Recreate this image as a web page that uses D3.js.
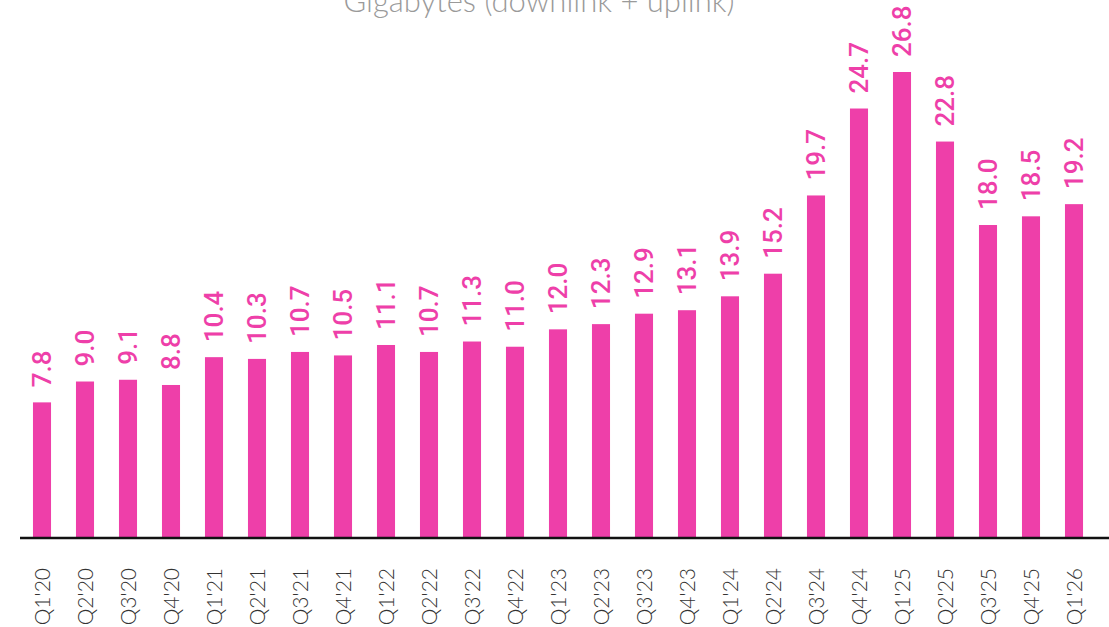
<!DOCTYPE html>
<html>
<head>
<meta charset="utf-8">
<script src="https://cdn.jsdelivr.net/npm/d3@7"></script>
<style>
  body { margin: 0; background: #fff; }
  svg { display: block; }
</style>
</head>
<body>
<div class="chart"></div>
<script>
// data
const quarters = ["Q1'20", "Q2'20", "Q3'20", "Q4'20", "Q1'21", "Q2'21", "Q3'21", "Q4'21",
  "Q1'22", "Q2'22", "Q3'22", "Q4'22", "Q1'23", "Q2'23", "Q3'23", "Q4'23",
  "Q1'24", "Q2'24", "Q3'24", "Q4'24", "Q1'25", "Q2'25", "Q3'25", "Q4'25", "Q1'26"];
const gigabytes = [7.8, 9.0, 9.1, 8.8, 10.4, 10.3, 10.7, 10.5,
  11.1, 10.7, 11.3, 11.0, 12.0, 12.3, 12.9, 13.1,
  13.9, 15.2, 19.7, 24.7, 26.8, 22.8, 18.0, 18.5, 19.2];
const titleText = "Gigabytes (downlink + uplink)";

const width = 1109, height = 627;
const baseY = 538;
const pink = "#ee3fa9";

const svg = d3.select(".chart")
  .append("svg")
  .attr("width", width)
  .attr("height", height);

const xScale = d3.scaleBand()
  .domain(quarters)
  .range([20.5, 20.5 + quarters.length * 43])
  .paddingInner(0.58)
  .paddingOuter(0.29);

const yScale = d3.scaleLinear()
  .domain([0, 26.8])
  .range([baseY, 72]);

// title (cut off at top edge, as in the source)
svg.append("text")
  .attr("x", 539)
  .attr("y", 12)
  .attr("text-anchor", "middle")
  .attr("font-family", "Lato, sans-serif")
  .attr("font-weight", 300)
  .attr("font-size", "31px")
  .attr("fill", "#9a9a9a")
  .text(titleText);

// bars
svg.selectAll("rect.bar")
  .data(gigabytes)
  .join("rect")
  .attr("class", "bar")
  .attr("x", (d, i) => xScale(quarters[i]))
  .attr("y", d => yScale(d))
  .attr("width", xScale.bandwidth())
  .attr("height", d => baseY - yScale(d))
  .attr("fill", pink);

// value labels
svg.selectAll("text.value")
  .data(gigabytes)
  .join("text")
  .attr("class", "value")
  .attr("transform", (d, i) =>
    `translate(${xScale(quarters[i]) + xScale.bandwidth() / 2},${yScale(d) - 15}) rotate(-90)`)
  .attr("dy", "0.36em")
  .attr("font-family", "Roboto, sans-serif")
  .attr("font-weight", 500)
  .attr("font-size", "26px")
  .attr("fill", pink)
  .text(d => d.toFixed(1));

// x axis
const xAxis = d3.axisBottom(xScale).tickSize(0).tickPadding(0);
const xAxisGraph = svg.append("g")
  .attr("class", "axis x-axis")
  .attr("transform", `translate(0,${baseY})`)
  .call(xAxis);

xAxisGraph.select(".domain").remove();
xAxisGraph.append("line")
  .attr("x1", 20).attr("x2", width)
  .attr("y1", 0).attr("y2", 0)
  .attr("stroke", "#111")
  .attr("stroke-width", 2.5);

xAxisGraph.selectAll(".tick text")
  .attr("transform", "translate(0,30) rotate(-90)")
  .attr("text-anchor", "end")
  .attr("x", 0)
  .attr("y", 0)
  .attr("dy", "0.36em")
  .attr("font-family", "Lato, sans-serif")
  .attr("font-weight", 300)
  .attr("font-size", "21px")
  .attr("fill", "#333");
</script>
</body>
</html>
